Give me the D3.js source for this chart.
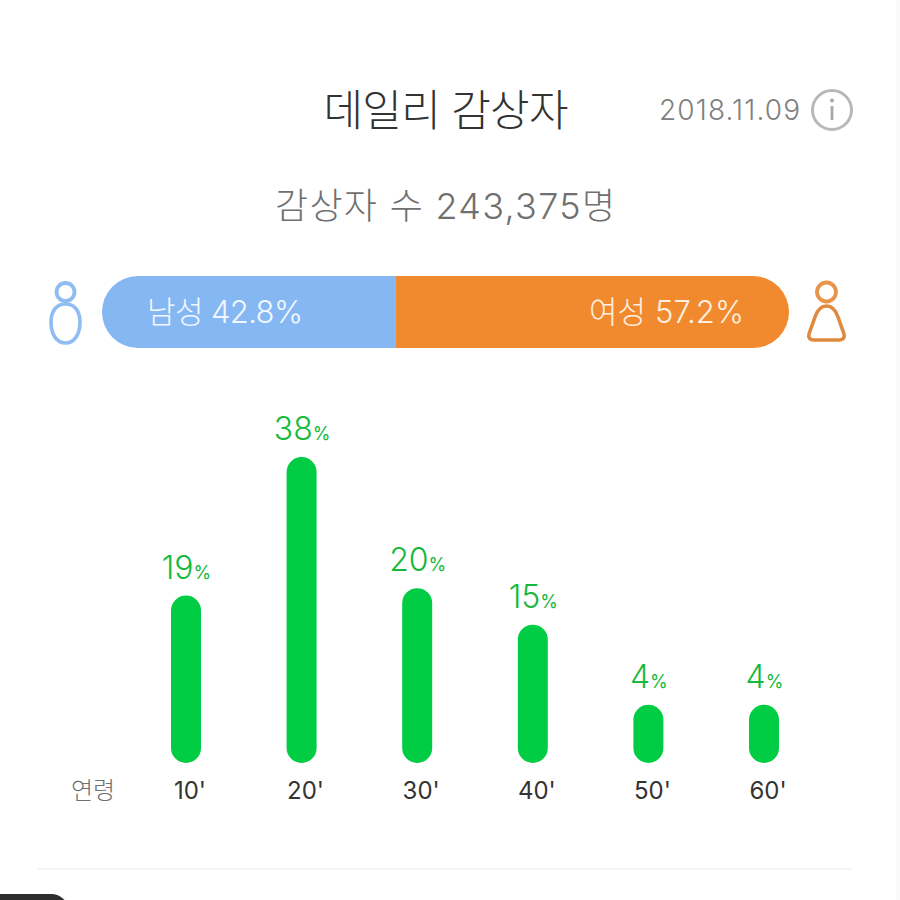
<!DOCTYPE html>
<html><head><meta charset="utf-8">
<style>
html,body{margin:0;padding:0;background:#fff;}
svg{display:block;}
text{font-family:Inter,"Noto Sans CJK KR","Noto Sans",sans-serif;}
</style>
<script src="https://d3js.org/d3.v7.min.js"></script>
</head><body><div id="c"></div>
<script>
const ageCategories = ["10'", "20'", "30'", "40'", "50'", "60'"];
const ageValues = [19, 38, 20, 15, 4, 4];
const genderLabels = ["남성", "여성"];
const genderValues = [42.8, 57.2];
const titleText = "데일리 감상자";
const dateText = "2018.11.09";
const subtitleText = "감상자 수 243,375명";
const axisLabel = "연령";

const svg = d3.select("#c").append("svg").attr("width", 900).attr("height", 900);

svg.append("rect").attr("x", 0).attr("y", 0).attr("width", 900).attr("height", 900).attr("fill", "#ffffff");
svg.append("rect").attr("x", 896).attr("y", 0).attr("width", 4).attr("height", 900).attr("fill", "#fafafa");

svg.append("text").attr("x", 446).attr("y", 126).attr("text-anchor", "middle")
  .attr("font-size", 43).attr("font-weight", 300).attr("fill", "#333333").attr("textLength", 245).text(titleText);
svg.append("text").attr("x", 800).attr("y", 120).attr("text-anchor", "end")
  .attr("font-size", 28).attr("font-weight", 300).attr("fill", "#808080").attr("textLength", 141).text(dateText);
svg.append("circle").attr("cx", 832).attr("cy", 110).attr("r", 19.5).attr("fill", "none").attr("stroke", "#b8b8b8").attr("stroke-width", 3);
svg.append("circle").attr("cx", 832).attr("cy", 100.5).attr("r", 2).attr("fill", "#a8a8a8");
svg.append("line").attr("x1", 832).attr("x2", 832).attr("y1", 106).attr("y2", 120).attr("stroke", "#a8a8a8").attr("stroke-width", 2.8);

svg.append("text").attr("x", 445).attr("y", 219).attr("text-anchor", "middle")
  .attr("font-size", 36).attr("font-weight", 300).attr("fill", "#707070").attr("textLength", 340).text(subtitleText);

const gx = d3.scaleLinear().domain([0, d3.sum(genderValues)]).range([102, 789]);
const gy = 276, gh = 72, gr = 36;
const split = gx(genderValues[0]);
const leftPath = d3.path();
leftPath.moveTo(split, gy); leftPath.lineTo(gx(0) + gr, gy);
leftPath.arc(gx(0) + gr, gy + gr, gr, -Math.PI / 2, Math.PI / 2, true);
leftPath.lineTo(split, gy + gh); leftPath.closePath();
svg.append("path").attr("d", leftPath.toString()).attr("fill", "#85b7f3");
const rightPath = d3.path();
const gEnd = gx(d3.sum(genderValues));
rightPath.moveTo(split, gy); rightPath.lineTo(gEnd - gr, gy);
rightPath.arc(gEnd - gr, gy + gr, gr, -Math.PI / 2, Math.PI / 2, false);
rightPath.lineTo(split, gy + gh); rightPath.closePath();
svg.append("path").attr("d", rightPath.toString()).attr("fill", "#f18a2f");
svg.append("text").attr("x", 147).attr("y", 323).attr("font-size", 31).attr("font-weight", 300).attr("fill", "#f2f7fe").attr("textLength", 156)
  .text(`${genderLabels[0]} ${genderValues[0]}%`);
svg.append("text").attr("x", 744).attr("y", 323).attr("text-anchor", "end").attr("font-size", 31).attr("font-weight", 300).attr("fill", "#fdf0e0").attr("textLength", 155)
  .text(`${genderLabels[1]} ${genderValues[1]}%`);

svg.append("circle").attr("cx", 65.5).attr("cy", 292).attr("r", 9).attr("fill", "none").attr("stroke", "#8fbdf3").attr("stroke-width", 3.8);
svg.append("path").attr("d", "M65.5,304 C55,304 51,313 51,322 C51,335 57,343 65.5,343 C74,343 80,335 80,322 C80,313 76,304 65.5,304 Z")
  .attr("fill", "none").attr("stroke", "#8fbdf3").attr("stroke-width", 3.6);
svg.append("circle").attr("cx", 826.5).attr("cy", 292).attr("r", 9.5).attr("fill", "none").attr("stroke", "#e8944a").attr("stroke-width", 3.8);
svg.append("path").attr("d", "M826.5,306 C820,306 817,311 815,317 L809,334 C808,338 810,340 814,340 L839,340 C843,340 845,338 844,334 L838,317 C836,311 833,306 826.5,306 Z")
  .attr("fill", "none").attr("stroke", "#e08a3f").attr("stroke-width", 3.6);

const x = d3.scalePoint().domain(ageCategories).range([186, 764]);
const y = d3.scaleLinear().domain([0, 38]).range([734, 457]);
const baseY = 763, barW = 30;
svg.selectAll("rect.bar").data(ageValues).join("rect").attr("class", "bar")
  .attr("x", (d, i) => x(ageCategories[i]) - barW / 2)
  .attr("y", d => y(d))
  .attr("width", barW)
  .attr("height", d => baseY - y(d))
  .attr("rx", barW / 2).attr("ry", barW / 2)
  .attr("fill", "#00cc44");

const vals = svg.selectAll("text.val").data(ageValues).join("text").attr("class", "val")
  .attr("x", (d, i) => x(ageCategories[i]) + 0.5)
  .attr("y", d => y(d) - 17)
  .attr("text-anchor", "middle").attr("fill", "#17b93c");
vals.append("tspan").attr("font-size", 32).attr("font-weight", 300).text(d => d);
vals.append("tspan").attr("font-size", 18).attr("font-weight", 400).text("%");

svg.selectAll("text.cat").data(ageCategories).join("text").attr("class", "cat")
  .attr("x", d => x(d) + 4).attr("y", 799).attr("text-anchor", "middle")
  .attr("font-size", 24).attr("font-weight", 400).attr("fill", "#333333").text(d => d);
svg.append("text").attr("x", 93).attr("y", 799).attr("text-anchor", "middle")
  .attr("font-size", 24).attr("font-weight", 300).attr("fill", "#707070").text(axisLabel);

svg.append("line").attr("x1", 38).attr("x2", 852).attr("y1", 869).attr("y2", 869).attr("stroke", "#f0f0f0").attr("stroke-width", 1.5);
svg.append("rect").attr("x", -20).attr("y", 894).attr("width", 89).attr("height", 40).attr("rx", 18).attr("fill", "#2e2e2e");
</script></body></html>
